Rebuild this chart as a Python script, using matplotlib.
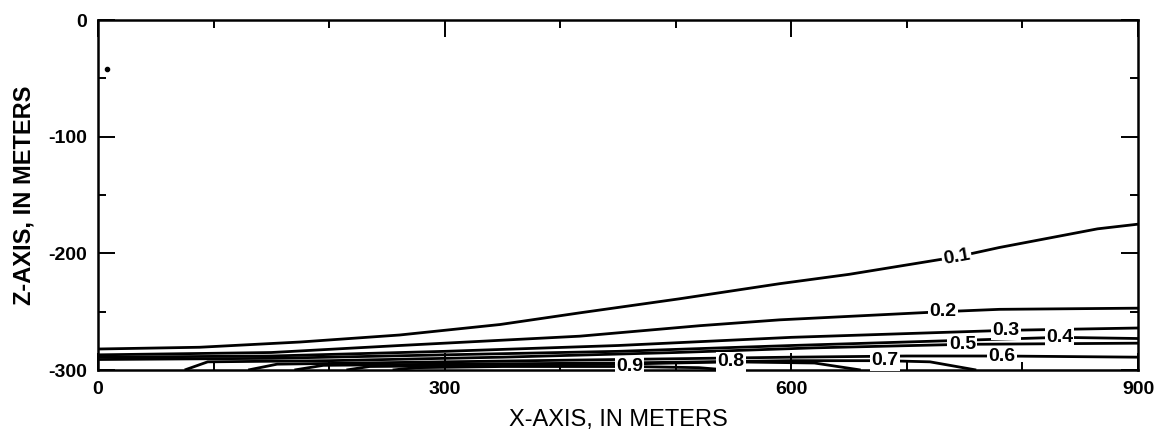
import numpy as np
import matplotlib
matplotlib.use("Agg")
import matplotlib.pyplot as plt
from matplotlib.ticker import MultipleLocator

plt.rcParams['font.family'] = ['Liberation Sans', 'DejaVu Sans']
plt.rcParams['axes.unicode_minus'] = False

# contour lines: x (m), z (m)
x_c01 = [0, 88, 175, 261, 348, 417, 503, 590, 650, 743, 780, 865, 900]
z_c01 = [-282, -280.5, -276, -270, -261, -251, -239, -226, -218, -203, -195, -179, -175]
x_c02 = [0, 150, 261, 417, 521, 590, 731, 780, 900]
z_c02 = [-287, -285, -279, -271, -262, -257, -250, -248, -247]
x_c03 = [0, 150, 300, 450, 600, 786, 900]
z_c03 = [-289, -288, -284, -279, -272, -266, -264]
x_c04 = [0, 150, 300, 450, 600, 832, 900]
z_c04 = [-291, -290, -287, -284, -279, -272, -273]
x_c05 = [75, 95, 200, 350, 500, 620, 748, 900]
z_c05 = [-300, -293, -292, -289, -285, -281, -278, -277]
x_c06 = [130, 155, 300, 450, 600, 700, 782, 900]
z_c06 = [-300, -295, -293, -291, -289, -288, -288, -289]
x_c07 = [170, 195, 300, 450, 600, 681, 720, 760]
z_c07 = [-300, -296, -295, -294, -292, -292, -293, -300]
x_c08 = [215, 235, 350, 450, 548, 620, 660]
z_c08 = [-300, -297, -296, -295, -293, -294, -300]
x_c09 = [255, 275, 350, 460, 520, 545]
z_c09 = [-300, -298, -297, -297, -298, -300]

contour_x = [x_c01, x_c02, x_c03, x_c04, x_c05, x_c06, x_c07, x_c08, x_c09]
contour_z = [z_c01, z_c02, z_c03, z_c04, z_c05, z_c06, z_c07, z_c08, z_c09]
levels = ['0.1', '0.2', '0.3', '0.4', '0.5', '0.6', '0.7', '0.8', '0.9']
# label positions (x, z) and rotation
label_x = [743, 731, 786, 832, 748, 782, 681, 548, 460]
label_z = [-203, -250, -266, -272, -278, -288, -292, -293, -296.6]
label_rot = [10, 0, 0, 0, 0, 0, 0, 0, 0]

# source point
src_x = [8]
src_z = [-42]

fig = plt.figure(figsize=(11.55, 4.32), dpi=100)
ax = fig.add_axes([0.0848, 0.1435, 0.9005, 0.8102])

for xs, zs in zip(contour_x, contour_z):
    ax.plot(xs, zs, color='black', lw=2.0, solid_capstyle='butt')

for lab, lx, lz, rot in zip(levels, label_x, label_z, label_rot):
    ax.text(lx, lz, lab, ha='center', va='center', rotation=rot,
            fontsize=14, fontweight='bold',
            bbox=dict(facecolor='white', edgecolor='none', pad=1.0))

ax.plot(src_x, src_z, 'o', color='black', ms=3)

ax.set_xlim(0, 900)
ax.set_ylim(-300, 0)
ax.xaxis.set_major_locator(MultipleLocator(300))
ax.xaxis.set_minor_locator(MultipleLocator(100))
ax.yaxis.set_major_locator(MultipleLocator(100))
ax.yaxis.set_minor_locator(MultipleLocator(50))
ax.tick_params(which='both', direction='in', top=True, right=True, width=1.4,
               labelsize=14, pad=8)
ax.tick_params(which='major', length=12)
ax.tick_params(which='minor', length=6)
for lab in ax.get_xticklabels() + ax.get_yticklabels():
    lab.set_fontweight('bold')
for s in ax.spines.values():
    s.set_linewidth(1.8)

ax.set_xlabel('X-AXIS, IN METERS', fontsize=17, labelpad=8)
ax.set_ylabel('Z-AXIS, IN METERS', fontsize=17, fontweight='bold', labelpad=9)

fig.savefig('out.png', dpi=100)
